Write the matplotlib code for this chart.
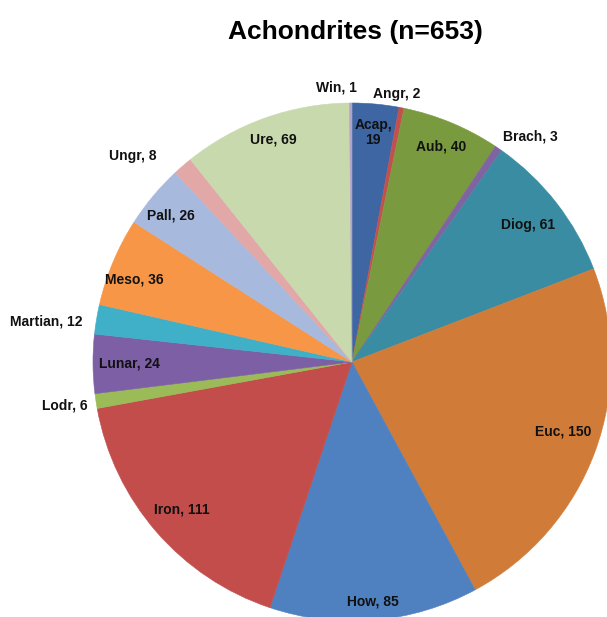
import numpy as np
import matplotlib.pyplot as plt

# achondrite groups, clockwise from 12 o'clock
groups = ['Acap', 'Angr', 'Aub', 'Brach', 'Diog', 'Euc', 'How', 'Iron',
          'Lodr', 'Lunar', 'Martian', 'Meso', 'Pall', 'Ungr', 'Ure', 'Win']
counts = [19, 2, 40, 3, 61, 150, 85, 111, 6, 24, 12, 36, 26, 8, 69, 1]

colors = ['#3d66a3', '#c4504e', '#7a9a3f', '#8064a2', '#3a8ca3', '#d07c38',
          '#4f80c0', '#c24d4b', '#9bbb59', '#7c5fa5', '#40b0c8', '#f79646',
          '#a7bade', '#e2a8a8', '#c8d9ad', '#b3a2c7']

# label radius (fraction of R) and small angle nudge (deg)
lab_r = [0.89, 1.05, 0.90, 1.11, 0.86, 0.86, 0.93, 0.87,
         1.12, 0.86, 1.19, 0.90, 0.90, 1.16, 0.91, 1.06]
lab_da = [0, 1.5, 0, -4, 0, 2, 0, 0, 0, 0, 2, 2, 1, 6, 0, 3]

plt.rcParams['font.family'] = ['Liberation Sans', 'DejaVu Sans']

fig = plt.figure(figsize=(6.07, 6.17), dpi=100)
ax = fig.add_axes([0, 0, 1, 1])

wedges, _ = ax.pie(counts, colors=colors, startangle=90, counterclock=False,
                   radius=1.0, wedgeprops=dict(linewidth=0))
for w in wedges:
    w.set_edgecolor(w.get_facecolor())
    w.set_linewidth(0.4)

for w, g, n, r, da in zip(wedges, groups, counts, lab_r, lab_da):
    mid = np.deg2rad((w.theta1 + w.theta2) / 2 + da)
    txt = f'{g},\n{n}' if g == 'Acap' else f'{g}, {n}'
    ax.text(r * np.cos(mid), r * np.sin(mid), txt, ha='center', va='center',
            fontsize=10, fontweight='bold', color='#111111', linespacing=1.05)

# pie centre at (352, 362) px, radius 259 px
ax.set_xlim(-352 / 259, (607 - 352) / 259)
ax.set_ylim(-(617 - 362) / 259, 362 / 259)
ax.set_aspect('auto')
ax.axis('off')

fig.text(355 / 607, 1 - 32 / 617, 'Achondrites (n=653)', ha='center', va='center',
         fontsize=19, fontweight='bold')

fig.savefig('out.png', dpi=100)
